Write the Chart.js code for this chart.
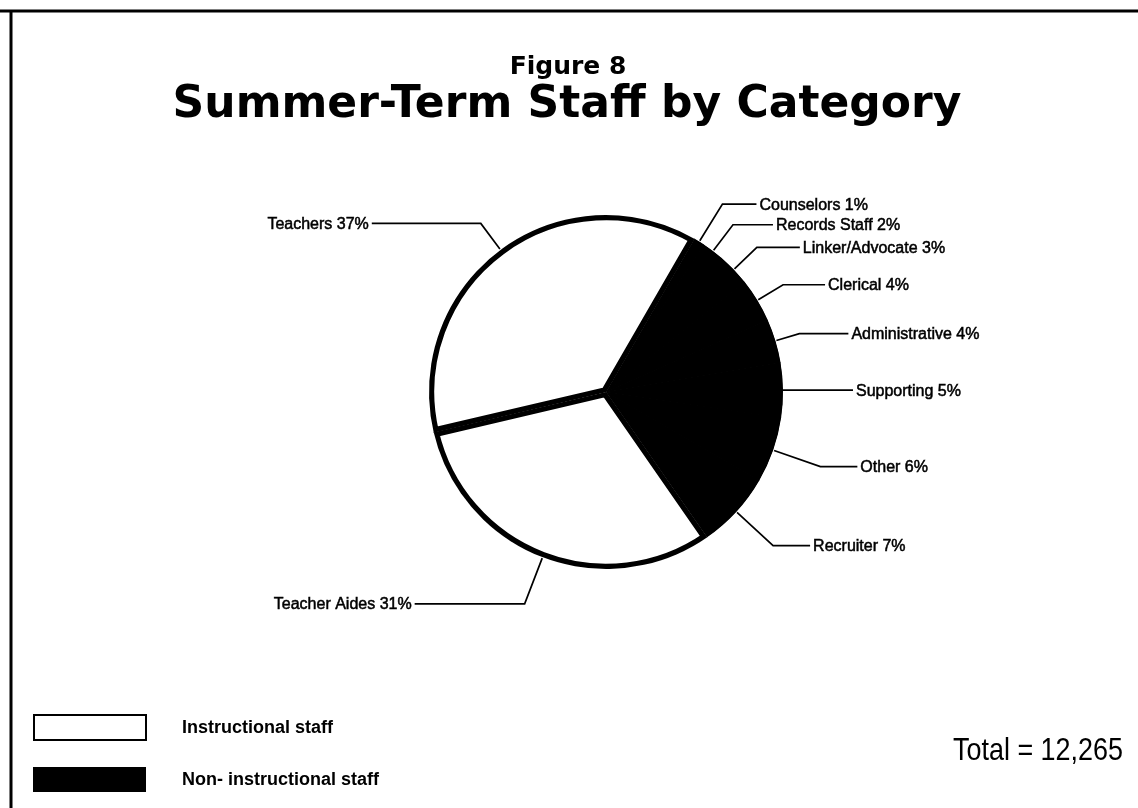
<!DOCTYPE html>
<html>
<head>
<meta charset="utf-8">
<script src="https://cdn.jsdelivr.net/npm/chart.js@4.4.1/dist/chart.umd.min.js"></script>
<style>
  html, body { margin: 0; padding: 0; background: #fff; }
  canvas { display: block; }
</style>
</head>
<body>
<canvas id="staffChart" width="1138" height="808"></canvas>
<script>
// values (percent of summer-term staff)
var categories = ['Counselors', 'Records Staff', 'Linker/Advocate', 'Clerical', 'Administrative',
                  'Supporting', 'Other', 'Recruiter', 'Teacher Aides', 'Teachers'];
var percents = [1, 2, 3, 4, 4, 5, 6, 7, 31, 37];
var staffGroup = ['non', 'non', 'non', 'non', 'non', 'non', 'non', 'non', 'instr', 'instr'];
var groupLabels = ['Instructional staff', 'Non- instructional staff'];
var totalText = 'Total = 12,265';

// leader line tweaks for each label (elbow distance out from the rim, horizontal run)
var elbowOut = [44, 33, 32, 30, 25, 0, 50, 50, 50, 33];
var runOut = [34, 40, 43, 42, 49, 70, 37, 37, 110, 109];

var labelFont = '16px "Liberation Sans", Arial, sans-serif';
var titleFamily = '"DejaVu Sans", sans-serif';

var fills = staffGroup.map(function (g) { return g === 'instr' ? '#ffffff' : '#000000'; });

var decorPlugin = {
    id: 'decor',
    beforeDraw: function (chart) {
        var ctx = chart.ctx;
        ctx.save();
        ctx.fillStyle = '#fff';
        ctx.fillRect(0, 0, chart.width, chart.height);
        // page frame (top and left edges only)
        ctx.strokeStyle = '#000';
        ctx.lineWidth = 3;
        ctx.beginPath();
        ctx.moveTo(0, 11);
        ctx.lineTo(chart.width, 11);
        ctx.moveTo(11, 11);
        ctx.lineTo(11, chart.height);
        ctx.stroke();

        // titles
        ctx.fillStyle = '#000';
        ctx.textAlign = 'center';
        ctx.textBaseline = 'alphabetic';
        ctx.font = 'bold 25px ' + titleFamily;
        ctx.fillText('Figure 8', 568, 74);
        ctx.font = 'bold 44px ' + titleFamily;
        ctx.fillText('Summer-Term Staff by Category', 567, 117, 800);

        // legend
        ctx.lineWidth = 2;
        ctx.fillStyle = '#fff';
        ctx.fillRect(34, 715, 112, 25);
        ctx.strokeRect(34, 715, 112, 25);
        ctx.fillStyle = '#000';
        ctx.fillRect(33, 767, 113, 25);
        ctx.font = 'bold 18px "Liberation Sans", Arial, sans-serif';
        ctx.textAlign = 'left';
        ctx.textBaseline = 'middle';
        ctx.fillText(groupLabels[0], 182, 728);
        ctx.fillText(groupLabels[1], 182, 780);

        // total
        ctx.font = '32px "Liberation Sans Narrow", "Liberation Sans", sans-serif';
        ctx.textAlign = 'right';
        ctx.fillText(totalText, 1123, 751, 170);
        ctx.restore();
    },
    afterDatasetsDraw: function (chart) {
        var ctx = chart.ctx;
        var arcs = chart.getDatasetMeta(0).data;
        ctx.save();
        ctx.strokeStyle = '#000';
        ctx.fillStyle = '#000';
        ctx.font = labelFont;
        ctx.textBaseline = 'middle';
        arcs.forEach(function (arc, i) {
            var p = arc.getProps(['x', 'y', 'startAngle', 'endAngle', 'outerRadius'], true);
            var mid = (p.startAngle + p.endAngle) / 2;
            var cos = Math.cos(mid), sin = Math.sin(mid);
            var x0 = p.x + cos * (p.outerRadius + 1);
            var y0 = p.y + sin * (p.outerRadius + 1);
            var x1 = p.x + cos * (p.outerRadius + elbowOut[i]);
            var y1 = p.y + sin * (p.outerRadius + elbowOut[i]);
            var dir = cos >= 0 ? 1 : -1;
            var x2 = x1 + dir * runOut[i];
            ctx.lineWidth = 1.7;
            ctx.beginPath();
            ctx.moveTo(x0, y0);
            ctx.lineTo(x1, y1);
            ctx.lineTo(x2, y1);
            ctx.stroke();
            var text = categories[i] + ' ' + percents[i] + '%';
            var tx = x2 + dir * 3;
            ctx.textAlign = dir > 0 ? 'left' : 'right';
            ctx.lineWidth = 0.5;
            ctx.fillText(text, tx, y1 + 1);
            ctx.strokeText(text, tx, y1 + 1);
        });
        ctx.restore();
    }
};

var ctx = document.getElementById('staffChart').getContext('2d');
var staffChart = new Chart(ctx, {
    type: 'pie',
    data: {
        labels: categories,
        datasets: [{
            data: percents,
            backgroundColor: fills,
            borderColor: '#000',
            borderWidth: 5,
            borderAlign: 'inner',
            radius: 177
        }]
    },
    options: {
        responsive: false,
        animation: false,
        rotation: 30,
        layout: {
            padding: { left: 250, right: 176, top: 150, bottom: 174 }
        },
        plugins: {
            legend: { display: false },
            title: { display: false },
            tooltip: { enabled: false }
        }
    },
    plugins: [decorPlugin]
});
</script>
</body>
</html>
